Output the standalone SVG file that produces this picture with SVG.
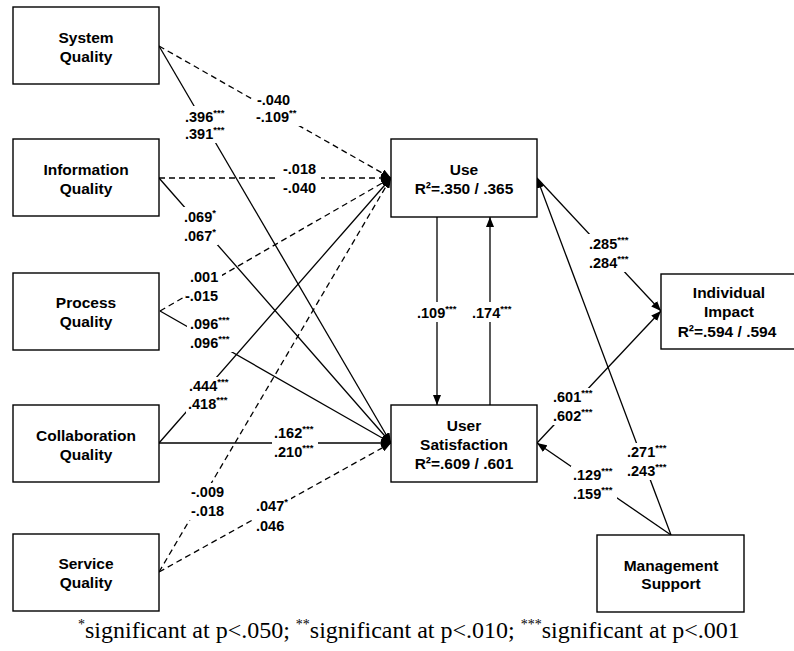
<svg xmlns="http://www.w3.org/2000/svg" width="794" height="651" viewBox="0 0 794 651">
<defs>
<marker id="ah" viewBox="0 0 10 8" refX="10" refY="4" markerWidth="10" markerHeight="8" markerUnits="userSpaceOnUse" orient="auto">
<path d="M0,0 L10,4 L0,8 z" fill="#000"/>
</marker>
<style>
.box{fill:#fff;stroke:#000;stroke-width:1.4}
.bt{font-family:"Liberation Sans",Arial,sans-serif;font-weight:bold;font-size:15.5px;text-anchor:middle;fill:#000}
.ln{fill:none;stroke:#000;stroke-width:1.3;marker-end:url(#ah)}
.ds{stroke-dasharray:6,4}
.lb{font-family:"Liberation Sans",Arial,sans-serif;font-weight:bold;font-size:14.5px;fill:#000}
.sp{font-size:9.5px}
.bg{fill:#fff;stroke:none}
.foot{font-family:"Liberation Serif","Times New Roman",serif;font-size:24px;fill:#000}
.fs{font-size:14px}
</style>
</defs>
<rect width="794" height="651" fill="#fff"/>
<g id="connectors">
<line class="ln ds" x1="159" y1="46" x2="391" y2="178"/>
<line class="ln" x1="159" y1="46" x2="391" y2="443"/>
<line class="ln ds" x1="159" y1="178" x2="391" y2="178"/>
<line class="ln" x1="159" y1="178" x2="391" y2="443"/>
<line class="ln ds" x1="160" y1="311" x2="391" y2="178"/>
<line class="ln" x1="160" y1="311" x2="391" y2="443"/>
<line class="ln" x1="159" y1="443" x2="391" y2="178"/>
<line class="ln" x1="159" y1="443" x2="391" y2="443"/>
<line class="ln ds" x1="159" y1="572" x2="391" y2="178"/>
<line class="ln ds" x1="159" y1="572" x2="391" y2="443"/>
<line class="ln" x1="437" y1="217" x2="437" y2="405"/>
<line class="ln" x1="490" y1="405" x2="490" y2="217"/>
<line class="ln" x1="537" y1="178" x2="661" y2="311"/>
<line class="ln" x1="537" y1="443" x2="661" y2="311"/>
<line class="ln" x1="671" y1="535" x2="537" y2="178"/>
<line class="ln" x1="671" y1="535" x2="537" y2="443"/>
<g id="labels">
<rect class="bg" x="254" y="91" width="47" height="35"/>
<text class="lb" x="257" y="105">-.040</text>
<text class="lb" x="256" y="122">-.109<tspan class="sp" dy="-6">**</tspan></text>
<rect class="bg" x="183" y="106" width="46" height="37"/>
<text class="lb" x="185" y="122">.396<tspan class="sp" dy="-6">***</tspan></text>
<text class="lb" x="185" y="139">.391<tspan class="sp" dy="-6">***</tspan></text>
<rect class="bg" x="279" y="160" width="42" height="37"/>
<text class="lb" x="283" y="174">-.018</text>
<text class="lb" x="283" y="193">-.040</text>
<rect class="bg" x="182" y="207" width="36" height="38"/>
<text class="lb" x="184" y="222">.069<tspan class="sp" dy="-6">*</tspan></text>
<text class="lb" x="184" y="241">.067<tspan class="sp" dy="-6">*</tspan></text>
<rect class="bg" x="186" y="268" width="36" height="37"/>
<text class="lb" x="190" y="282">.001</text>
<text class="lb" x="185" y="301">-.015</text>
<rect class="bg" x="187" y="315" width="46" height="37"/>
<text class="lb" x="190" y="329">.096<tspan class="sp" dy="-6">***</tspan></text>
<text class="lb" x="190" y="348">.096<tspan class="sp" dy="-6">***</tspan></text>
<rect class="bg" x="186" y="377" width="46" height="36"/>
<text class="lb" x="189" y="391">.444<tspan class="sp" dy="-6">***</tspan></text>
<text class="lb" x="188" y="409">.418<tspan class="sp" dy="-6">***</tspan></text>
<rect class="bg" x="272" y="424" width="46" height="37"/>
<text class="lb" x="274" y="438">.162<tspan class="sp" dy="-6">***</tspan></text>
<text class="lb" x="274" y="457">.210<tspan class="sp" dy="-6">***</tspan></text>
<rect class="bg" x="188" y="483" width="40" height="37"/>
<text class="lb" x="191" y="497">-.009</text>
<text class="lb" x="191" y="516">-.018</text>
<rect class="bg" x="253" y="497" width="38" height="38"/>
<text class="lb" x="256" y="511">.047<tspan class="sp" dy="-6">*</tspan></text>
<text class="lb" x="256" y="531">.046</text>
<rect class="bg" x="415" y="302" width="46" height="20"/>
<text class="lb" x="417" y="318">.109<tspan class="sp" dy="-6">***</tspan></text>
<rect class="bg" x="470" y="302" width="46" height="20"/>
<text class="lb" x="472" y="318">.174<tspan class="sp" dy="-6">***</tspan></text>
<rect class="bg" x="586" y="234" width="47" height="38"/>
<text class="lb" x="589" y="249">.285<tspan class="sp" dy="-6">***</tspan></text>
<text class="lb" x="589" y="268">.284<tspan class="sp" dy="-6">***</tspan></text>
<rect class="bg" x="551" y="388" width="46" height="37"/>
<text class="lb" x="553" y="402">.601<tspan class="sp" dy="-6">***</tspan></text>
<text class="lb" x="553" y="421">.602<tspan class="sp" dy="-6">***</tspan></text>
<rect class="bg" x="625" y="443" width="46" height="37"/>
<text class="lb" x="627" y="457">.271<tspan class="sp" dy="-6">***</tspan></text>
<text class="lb" x="627" y="476">.243<tspan class="sp" dy="-6">***</tspan></text>
<rect class="bg" x="571" y="466" width="46" height="37"/>
<text class="lb" x="573" y="480">.129<tspan class="sp" dy="-6">***</tspan></text>
<text class="lb" x="573" y="499">.159<tspan class="sp" dy="-6">***</tspan></text>
</g>
</g>
<g id="system-quality">
<rect class="box" x="13" y="7" width="146" height="77"/>
<text class="bt" x="86" y="43">System</text>
<text class="bt" x="86" y="62">Quality</text>
</g>
<g id="information-quality">
<rect class="box" x="13" y="139" width="146" height="77"/>
<text class="bt" x="86" y="175">Information</text>
<text class="bt" x="86" y="194">Quality</text>
</g>
<g id="process-quality">
<rect class="box" x="13" y="273" width="146" height="77"/>
<text class="bt" x="86" y="308">Process</text>
<text class="bt" x="86" y="327">Quality</text>
</g>
<g id="collaboration-quality">
<rect class="box" x="13" y="405" width="146" height="77"/>
<text class="bt" x="86" y="441">Collaboration</text>
<text class="bt" x="86" y="460">Quality</text>
</g>
<g id="service-quality">
<rect class="box" x="13" y="534" width="146" height="77"/>
<text class="bt" x="86" y="569">Service</text>
<text class="bt" x="86" y="588">Quality</text>
</g>
<g id="use">
<rect class="box" x="391" y="139" width="146" height="78"/>
<text class="bt" x="464" y="175">Use</text>
<text class="bt" x="464" y="194">R²=.350 / .365</text>
</g>
<g id="user-satisfaction">
<rect class="box" x="391" y="405" width="146" height="77"/>
<text class="bt" x="464" y="431">User</text>
<text class="bt" x="464" y="450">Satisfaction</text>
<text class="bt" x="464" y="469">R²=.609 / .601</text>
</g>
<g id="individual-impact">
<rect class="box" x="661" y="274" width="145" height="75"/>
<text class="bt" x="729" y="298">Individual</text>
<text class="bt" x="729" y="317">Impact</text>
<text class="bt" x="727" y="337">R²=.594 / .594</text>
</g>
<g id="management-support">
<rect class="box" x="597" y="535" width="147" height="77"/>
<text class="bt" x="671" y="571">Management</text>
<text class="bt" x="671" y="589">Support</text>
</g>
<text class="foot" x="78" y="638"><tspan class="fs" dy="-9">*</tspan><tspan dy="9">significant at p&lt;.050; </tspan><tspan class="fs" dy="-9">**</tspan><tspan dy="9">significant at p&lt;.010; </tspan><tspan class="fs" dy="-9">***</tspan><tspan dy="9">significant at p&lt;.001</tspan></text>
</svg>
